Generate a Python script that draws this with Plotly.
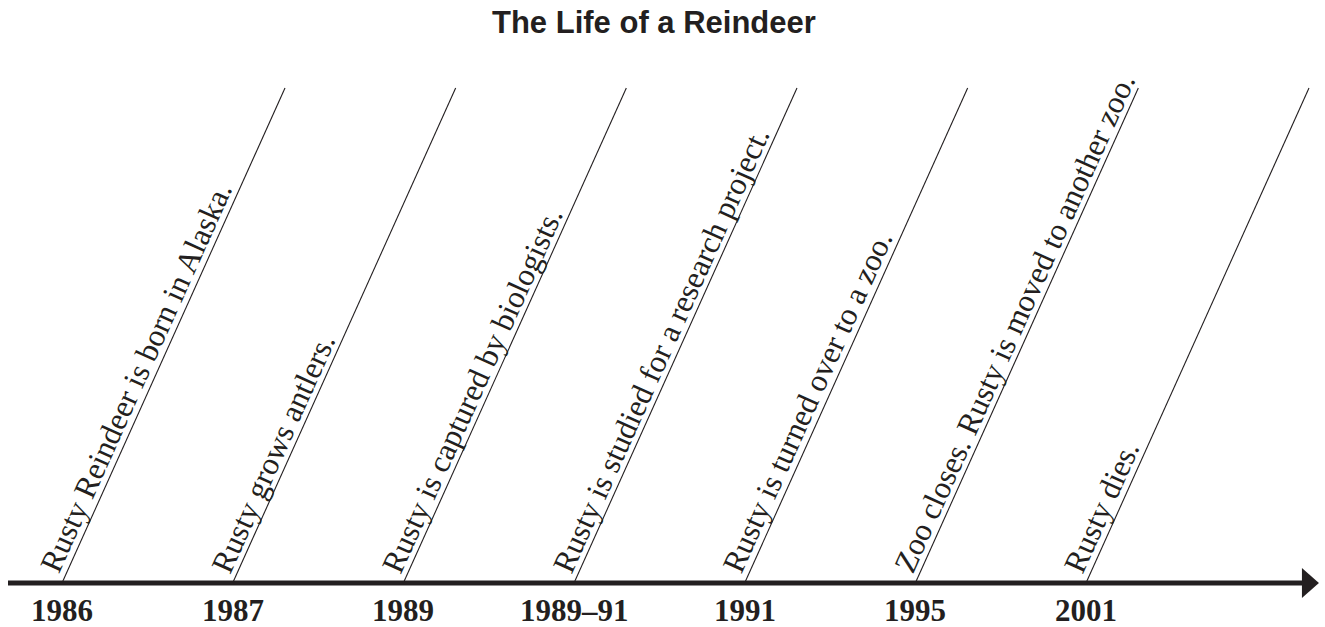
import math
import plotly.graph_objects as go

# ---- data ----
TITLE = "The Life of a Reindeer"
YEARS = ["1986", "1987", "1989", "1989–91", "1991", "1995", "2001"]
EVENTS = [
    "Rusty Reindeer is born in Alaska.",
    "Rusty grows antlers.",
    "Rusty is captured by biologists.",
    "Rusty is studied for a research project.",
    "Rusty is turned over to a zoo.",
    "Zoo closes. Rusty is moved to another zoo.",
    "Rusty dies.",
]
POSITIONS = list(range(len(YEARS)))

# ---- style / layout ----
W, H = 1325, 627
X_RANGE = [-0.3633, 7.4004]
Y_RANGE = [-0.0889, 1.1778]
SLANT = 1.3066           # horizontal run of each leader line (x units)
AXIS_START = -0.3164
AXIS_END = 7.271
INK = "#231f20"
LABEL_SIZE = 31.5
YEAR_SIZE = 31
TITLE_SIZE = 31

px_x = W / (X_RANGE[1] - X_RANGE[0])
px_y = H / (Y_RANGE[1] - Y_RANGE[0])
theta = math.atan2(px_y, SLANT * px_x)
s, c = math.sin(theta), math.cos(theta)

fig = go.Figure()
fig.add_trace(go.Scatter(x=POSITIONS, y=[0] * len(POSITIONS), mode="markers",
                         marker=dict(size=1, color="rgba(0,0,0,0)"),
                         hoverinfo="skip", showlegend=False))

shapes = []
# main axis
shapes.append(dict(type="line", xref="x", yref="y", x0=AXIS_START, x1=AXIS_END,
                   y0=0, y1=0, line=dict(color=INK, width=5)))
# arrow head
shapes.append(dict(type="path", xref="x", yref="y", xsizemode="pixel", ysizemode="pixel",
                   xanchor=AXIS_END, yanchor=0,
                   path="M -1,15 L 16,0 L -1,-15 Z",
                   fillcolor=INK, line=dict(color=INK, width=0)))
# leader lines
for p in POSITIONS:
    shapes.append(dict(type="line", xref="x", yref="y", x0=p, y0=0, x1=p + SLANT, y1=1,
                       line=dict(color=INK, width=1.1)))

annotations = []
along, gap = 6.0, 6.0
for p, ev in zip(POSITIONS, EVENTS):
    sz = LABEL_SIZE
    k = gap - 0.216 * sz
    dx = along * c - k * s
    dy = -along * s - k * c
    hbox = 1.107 * sz
    annotations.append(dict(
        x=p, y=0, xref="x", yref="y", text=ev, showarrow=False,
        textangle=-math.degrees(theta), xanchor="left", yanchor="bottom",
        xshift=dx - hbox * s, yshift=-dy, borderpad=0, borderwidth=0,
        font=dict(family="Liberation Serif", size=sz, color=INK)))

for p, yr in zip(POSITIONS, YEARS):
    annotations.append(dict(
        x=p, y=0, xref="x", yref="y", text="<b>" + yr + "</b>", showarrow=False,
        xanchor="center", yanchor="top", yshift=-8.5, borderpad=0,
        font=dict(family="Liberation Serif", size=YEAR_SIZE, color=INK)))

annotations.append(dict(
    x=654 / W, y=1, xref="paper", yref="paper", text="<b>" + TITLE + "</b>",
    showarrow=False, xanchor="center", yanchor="top", yshift=-4, borderpad=0,
    font=dict(family="Liberation Sans", size=TITLE_SIZE, color=INK)))

fig.update_layout(
    width=W, height=H, margin=dict(l=0, r=0, t=0, b=0),
    paper_bgcolor="white", plot_bgcolor="white",
    xaxis=dict(range=X_RANGE, visible=False, fixedrange=True),
    yaxis=dict(range=Y_RANGE, visible=False, fixedrange=True),
    shapes=shapes, annotations=annotations, showlegend=False,
)

fig.write_html("out.html", config={"displayModeBar": False},
               post_script="document.body.style.margin='0';")
